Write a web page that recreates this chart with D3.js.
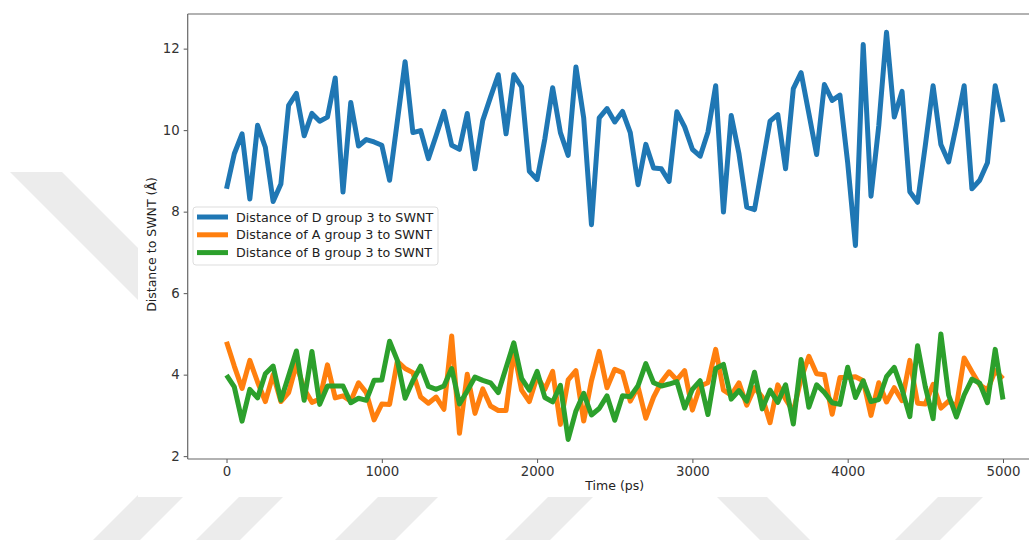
<!DOCTYPE html>
<html>
<head>
<meta charset="utf-8">
<script src="https://cdn.jsdelivr.net/npm/d3@7"></script>
<style>
  html, body { margin: 0; padding: 0; background: #ffffff; }
  svg { display: block; font-family: "DejaVu Sans", sans-serif; }
</style>
</head>
<body>
<svg id="chart" width="1029" height="540"></svg>
<script>
// Sampling times (ps), one frame every 50 ps
const times = d3.range(0, 5001, 50);

// Distance of D group 3 to SWNT (Å)
const distD = [
  8.56, 9.42, 9.91, 8.31, 10.12, 9.58, 8.25, 8.68, 10.61, 10.90,
  9.86, 10.41, 10.22, 10.32, 11.28, 8.48, 10.68, 9.61, 9.77, 9.71,
  9.63, 8.77, 10.22, 11.68, 9.94, 9.99, 9.30, 9.87, 10.46, 9.63,
  9.53, 10.41, 9.05, 10.24, 10.81, 11.36, 9.91, 11.36, 11.06, 8.99,
  8.79, 9.79, 11.04, 9.94, 9.38, 11.55, 10.30, 7.68, 10.30, 10.53,
  10.20, 10.46, 9.94, 8.66, 9.65, 9.07, 9.05, 8.74, 10.45, 10.08,
  9.53, 9.36, 9.95, 11.09, 7.99, 10.36, 9.42, 8.11, 8.05, 9.13,
  10.22, 10.38, 9.05, 11.02, 11.41, 10.41, 9.40, 11.12, 10.73, 10.86,
  9.20, 7.17, 12.10, 8.38, 10.10, 12.40, 10.32, 10.95, 8.49, 8.23,
  9.63, 11.09, 9.65, 9.22, 10.12, 11.09, 8.56, 8.77, 9.20, 11.09,
  10.20
];

// Distance of A group 3 to SWNT (Å)
const distA = [
  4.81, 4.21, 3.66, 4.35, 3.82, 3.34, 4.00, 3.34, 3.56, 4.25,
  3.65, 3.32, 3.40, 4.24, 3.43, 3.48, 3.35, 3.80, 3.56, 2.89,
  3.28, 3.27, 4.33, 4.15, 4.05, 3.45, 3.30, 3.45, 3.15, 4.95,
  2.56, 4.01, 3.05, 3.65, 3.23, 3.12, 3.12, 4.60, 3.62, 3.34,
  3.95, 3.64, 4.08, 2.78, 3.87, 4.10, 2.86, 3.85, 4.57, 3.68,
  4.13, 4.05, 3.35, 3.70, 2.93, 3.45, 3.82, 4.07, 3.87, 4.10,
  3.13, 3.72, 3.80, 4.62, 3.62, 3.50, 3.80, 3.25, 3.68, 3.45,
  2.82, 3.75, 3.40, 3.10, 3.90, 4.45, 4.02, 4.00, 3.03, 3.93,
  3.93, 3.95, 3.85, 3.00, 3.80, 3.33, 3.68, 3.36, 4.35, 3.30,
  3.28, 3.76, 3.18, 3.35, 3.22, 4.41, 4.07, 3.75, 3.62, 4.10,
  3.90
];

// Distance of B group 3 to SWNT (Å)
const distB = [
  3.99, 3.70, 2.86, 3.64, 3.43, 4.02, 4.21, 3.37, 3.97, 4.58,
  3.37, 4.57, 3.27, 3.72, 3.72, 3.72, 3.31, 3.42, 3.37, 3.86,
  3.87, 4.82, 4.35, 3.42, 3.85, 4.21, 3.71, 3.64, 3.72, 4.15,
  3.28, 3.60, 3.94, 3.86, 3.80, 3.56, 4.17, 4.78, 3.91, 3.62,
  4.08, 3.44, 3.33, 3.74, 2.41, 3.11, 3.54, 3.01, 3.17, 3.48,
  2.88, 3.48, 3.46, 3.73, 4.27, 3.80, 3.72, 3.77, 3.83, 3.18,
  3.64, 3.85, 3.02, 4.15, 4.25, 3.40, 3.61, 3.35, 4.06, 3.16,
  3.62, 3.32, 3.75, 2.79, 4.37, 3.20, 3.75, 3.56, 3.31, 3.27,
  4.18, 3.44, 3.85, 3.34, 3.39, 3.95, 4.18, 3.64, 2.97, 4.71,
  3.70, 2.92, 5.00, 3.50, 2.96, 3.50, 3.89, 3.79, 3.31, 4.62,
  3.39
];

const seriesNames = [
  "Distance of D group 3 to SWNT",
  "Distance of A group 3 to SWNT",
  "Distance of B group 3 to SWNT"
];
const seriesColors = ["#1f77b4", "#ff7f0e", "#2ca02c"];

const xTicks = [0, 1000, 2000, 3000, 4000, 5000];
const yTicks = [2, 4, 6, 8, 10, 12];
const xLabel = "Time (ps)";
const yLabel = "Distance to SWNT (Å)";

const svg = d3.select("#chart");

// Faint background watermark bands
const bands = [
  [[10, 172], [62, 172], [330, 440], [278, 440]],
  [[93, 540], [140, 540], [190, 490], [143, 490]],
  [[196, 540], [240, 540], [290, 490], [246, 490]],
  [[335, 540], [395, 540], [445, 490], [385, 490]],
  [[505, 540], [550, 540], [600, 490], [555, 490]],
  [[810, 540], [760, 540], [710, 490], [760, 490]],
  [[895, 540], [940, 540], [990, 490], [945, 490]]
];
svg.append("g").selectAll("polygon").data(bands).join("polygon")
  .attr("points", d => d.map(p => p.join(",")).join(" "))
  .attr("fill", "#ececec");

// Figure canvas
svg.append("rect").attr("x", 138).attr("y", 0).attr("width", 891).attr("height", 497)
  .attr("fill", "#ffffff");

const plot = { left: 187.7, right: 1041.8, top: 14, bottom: 459 };

const x = d3.scaleLinear().domain([-250, 5250]).range([plot.left, plot.right]);
const y = d3.scaleLinear().domain([1.93, 12.85]).range([plot.bottom, plot.top]);

const line = d3.line().x((d, i) => x(times[i])).y(d => y(d));

const lines = svg.append("g");
[distD, distA, distB].forEach((s, k) => {
  lines.append("path")
    .datum(s)
    .attr("d", line)
    .attr("fill", "none")
    .attr("stroke", seriesColors[k])
    .attr("stroke-width", 5)
    .attr("stroke-linejoin", "round")
    .attr("stroke-linecap", "butt");
});

// Axes
const xAxis = svg.append("g")
  .attr("transform", `translate(0,${plot.bottom})`)
  .call(d3.axisBottom(x).tickValues(xTicks).tickFormat(d3.format("d")).tickSize(4).tickPadding(4));
const yAxis = svg.append("g")
  .attr("transform", `translate(${plot.left},0)`)
  .call(d3.axisLeft(y).tickValues(yTicks).tickFormat(d3.format("d")).tickSize(4).tickPadding(4));

[xAxis, yAxis].forEach(g => {
  g.select(".domain").remove();
  g.selectAll(".tick line").attr("stroke", "#555").attr("stroke-width", 1);
  g.selectAll(".tick text").attr("fill", "#333").style("font-size", "13.3px")
    .style("font-family", "DejaVu Sans, sans-serif");
});

// Spines
svg.append("line").attr("x1", plot.left).attr("x2", plot.left).attr("y1", plot.top).attr("y2", plot.bottom)
  .attr("stroke", "#666").attr("stroke-width", 1.2);
svg.append("line").attr("x1", plot.left).attr("x2", 1029).attr("y1", plot.bottom).attr("y2", plot.bottom)
  .attr("stroke", "#666").attr("stroke-width", 1.2);
svg.append("line").attr("x1", plot.left).attr("x2", 1029).attr("y1", plot.top).attr("y2", plot.top)
  .attr("stroke", "#666").attr("stroke-width", 1.2);

// Axis titles
svg.append("text")
  .attr("x", (x(0) + x(5000)) / 2).attr("y", 490)
  .attr("text-anchor", "middle").attr("fill", "#222")
  .style("font-size", "12.5px").text(xLabel);
svg.append("text")
  .attr("transform", `translate(156,${(plot.top + plot.bottom) / 2 + 8}) rotate(-90)`)
  .attr("text-anchor", "middle").attr("fill", "#222")
  .style("font-size", "12.5px").text(yLabel);

// Legend
const legend = svg.append("g").attr("transform", "translate(193,207)");
legend.append("rect").attr("width", 245).attr("height", 58).attr("rx", 3)
  .attr("fill", "#ffffff").attr("fill-opacity", 0.85)
  .attr("stroke", "#dddddd").attr("stroke-width", 1);
seriesNames.forEach((name, k) => {
  const cy = 10 + k * 17.8;
  legend.append("line").attr("x1", 4).attr("x2", 35).attr("y1", cy).attr("y2", cy)
    .attr("stroke", seriesColors[k]).attr("stroke-width", 5);
  legend.append("text").attr("x", 43).attr("y", cy + 4.5)
    .attr("fill", "#222").style("font-size", "12.7px").text(name);
});
</script>
</body>
</html>
